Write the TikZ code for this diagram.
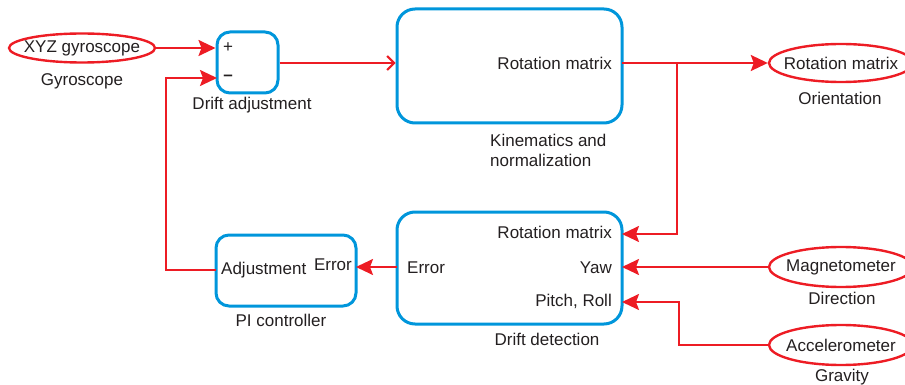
\documentclass[tikz,border=0pt]{standalone}
\usepackage{fontspec}
\setmainfont{Liberation Sans}
\usetikzlibrary{arrows.meta,shapes.geometric}
\definecolor{boxblue}{RGB}{0,150,219}
\definecolor{linered}{RGB}{237,28,36}
\definecolor{txt}{RGB}{35,31,32}
\tikzset{
  every node/.style={font=\fontsize{17}{20}\selectfont, text=txt, inner sep=0pt},
  blk/.style={draw=boxblue, line width=3pt, rounded corners=13pt, fill=none},
  sens/.style={draw=linered, line width=2.4pt, ellipse, inner sep=0pt},
  wire/.style={draw=linered, line width=2.2pt},
  arr/.style={wire, -{Stealth[length=17pt,width=16pt,inset=3pt]}},
  openarr/.style={wire, -{Straight Barb[length=7pt,width=14pt,line width=2pt]}},
}
\begin{document}
\begin{tikzpicture}[x=1pt,y=-1pt]
\useasboundingbox (0,0) rectangle (905,385);
% boxes
\node[blk, minimum width=61pt, minimum height=61pt] (da) at (247.5,62.5) {};
\node[blk, minimum width=225pt, minimum height=114pt, rounded corners=18pt] (kin) at (509.5,66) {};
\node[blk, minimum width=225pt, minimum height=112pt, rounded corners=18pt] (dd) at (509.5,268) {};
\node[blk, minimum width=140pt, minimum height=71pt] (pi) at (286,270.5) {};
% sensors
\node[sens, minimum width=146pt, minimum height=29pt] (gyro) at (82,48) {};
\node[sens, minimum width=144pt, minimum height=38pt] (ori) at (841,63) {};
\node[sens, minimum width=144pt, minimum height=40pt] (mag) at (841,267) {};
\node[sens, minimum width=144pt, minimum height=40pt] (acc) at (841,345) {};
\node (tgyro) at (gyro.center) {XYZ gyroscope};
\node (tori) at (ori.center) {Rotation matrix};
\node (tmag) at (mag.center) {Magnetometer};
\node (tacc) at (acc.center) {Accelerometer};
% captions
\node (cgyro) at (82,81) {Gyroscope};
\node (cda) at (252,105) {Drift adjustment};
\node[align=left, anchor=west] (ckin) at (490,150) {Kinematics and\\normalization};
\node (cori) at (840,98) {Orientation};
\node (cdd) at (547,339) {Drift detection};
\node (cpi) at (281,320) {PI controller};
\node (cmag) at (842,298) {Direction};
\node (cacc) at (842,377) {Gravity};
% inner texts
\node (plus) at (228,48) {+};
\node (minus) at (228,78) {\textbf{--}};
\node[anchor=east] (krm) at (612,63) {Rotation matrix};
\node[anchor=east] (drm) at (612,232) {Rotation matrix};
\node[anchor=east] (dyaw) at (612,268) {Yaw};
\node[anchor=east] (dpr) at (612,301) {Pitch, Roll};
\node[anchor=west] (derr) at (407,268) {Error};
\node[anchor=west] (padj) at (221,270) {Adjustment};
\node[anchor=east] (perr) at (352,265) {Error};
% junction coordinates
\coordinate (kout) at (622,63);
\coordinate (j) at (677,63);
\coordinate (jd) at (677,234);
\coordinate (ddrm) at (622,234);
\coordinate (ddyaw) at (622,267);
\coordinate (ddpr) at (622,302);
\coordinate (ac) at (679,345);
\coordinate (acu) at (679,302);
\coordinate (ddl) at (397,267);
\coordinate (pir) at (356,267);
\coordinate (pil) at (216,270);
\coordinate (fb) at (166,270);
\coordinate (fbu) at (166,78);
\coordinate (dam) at (217,78);
% connectors
\draw[arr] (gyro.east) -- (gyro.east -| da.west);
\draw[openarr] (da.east |- 0,63) -- (kin.west |- 0,63);
\draw[arr] (kout) -- (ori.west);
\draw[arr] (j) -- (jd) -- (ddrm);
\draw[arr] (mag.west) -- (ddyaw);
\draw[arr] (acc.west) -- (ac) -- (acu) -- (ddpr);
\draw[arr] (ddl) -- (pir);
\draw[arr] (pil) -- (fb) -- (fbu) -- (dam);
\end{tikzpicture}
\end{document}
